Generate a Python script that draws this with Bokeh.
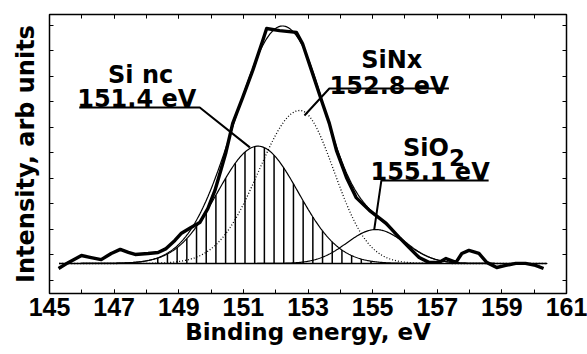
import numpy as np
from bokeh.plotting import figure
from bokeh.models import FixedTicker, LinearAxis, Range1d
from bokeh.embed import file_html
from bokeh.resources import INLINE
from bokeh.core.properties import value

# ---- data ----
energy = [145.28, 145.59, 145.99, 146.29, 146.60, 146.91, 147.19, 147.44, 147.65, 148.05,
          148.36, 148.61, 148.88, 149.07, 149.38, 149.65, 149.90, 150.12, 150.30, 150.46,
          150.67, 150.98, 151.29, 151.60, 151.72, 152.12, 152.64, 152.83, 153.14, 153.45,
          153.66, 153.88, 154.19, 154.49, 154.90, 155.42, 155.82, 156.13, 156.44, 156.74,
          157.05, 157.27, 157.58, 157.76, 157.98, 158.29, 158.53, 158.84, 159.12, 159.43,
          159.73, 160.04, 160.29]
intensity = [0.47, 0.71, 0.98, 0.90, 0.82, 1.06, 1.22, 1.10, 1.02, 1.06,
             1.10, 1.25, 1.57, 1.84, 2.08, 2.27, 2.82, 3.53, 4.31, 5.02,
             6.16, 7.18, 8.24, 9.41, 9.88, 9.80, 9.73, 9.29, 8.12, 6.94,
             6.16, 5.10, 4.04, 3.25, 2.75, 2.24, 1.69, 1.29, 0.90, 0.71,
             0.71, 0.86, 0.71, 1.06, 1.18, 1.06, 0.71, 0.51, 0.59, 0.67,
             0.67, 0.59, 0.47]

baseline_level = 0.667
baseline_span = [145.3, 160.4]

peak_names = ["Si nc", "SiNx", "SiO2"]
peak_centers = [151.45, 152.75, 155.1]
peak_heights = [4.6, 6.0, 1.33]
peak_sigmas_left = [1.25, 1.27, 0.90]
peak_sigmas_right = [1.25, 1.05, 0.90]

x_major_ticks = [145, 147, 149, 151, 153, 155, 157, 159, 161]
x_minor_ticks = list(range(145, 162))
y_ticks = list(range(0, 11))

x_title = "Binding energy, eV"
y_title = "Intensity, arb units"

# ---- figure ----
p = figure(width=587, height=354, output_backend="svg", toolbar_location=None,
           x_range=Range1d(145, 161), y_range=Range1d(-0.51, 10.43),
           min_border_left=49, min_border_right=21, min_border_top=14, min_border_bottom=61)
p.grid.visible = False
p.outline_line_color = "black"
p.outline_line_width = 1.5
p.background_fill_color = "white"
p.border_fill_color = "white"

xt = FixedTicker(ticks=x_major_ticks, minor_ticks=x_minor_ticks)
yt = FixedTicker(ticks=y_ticks, minor_ticks=[])

xa = p.xaxis[0]
xa.ticker = xt
xa.major_tick_in = 4
xa.major_tick_out = 0
xa.minor_tick_in = 4
xa.minor_tick_out = 0
xa.axis_line_color = "black"
xa.major_label_text_font = "Liberation Sans"
xa.major_label_text_font_style = "bold"
xa.major_label_text_font_size = "25px"
xa.major_label_text_color = "black"
xa.major_label_standoff = 4
xa.axis_label = x_title
xa.axis_label_text_font = "DejaVu Sans"
xa.axis_label_text_font_style = "bold"
xa.axis_label_text_font_size = "23px"
xa.axis_label_text_color = "black"
xa.axis_label_standoff = 0

ya = p.yaxis[0]
ya.ticker = yt
ya.major_tick_in = 4
ya.major_tick_out = 0
ya.minor_tick_in = 0
ya.minor_tick_out = 0
ya.major_label_text_font_size = "1px"
ya.major_label_text_alpha = 0
ya.major_label_standoff = 0
ya.major_label_overrides = {t: "" for t in y_ticks}
ya.axis_label = y_title
ya.axis_label_text_font = "DejaVu Sans"
ya.axis_label_text_font_style = "bold"
ya.axis_label_text_font_size = "24px"
ya.axis_label_text_color = "black"
ya.axis_label_standoff = 10

top = LinearAxis(ticker=xt, major_tick_in=4, major_tick_out=0, minor_tick_in=4, minor_tick_out=0,
                 major_label_text_font_size="1px", major_label_text_alpha=0, major_label_standoff=0,
                 major_label_overrides={t: "" for t in x_major_ticks})
right = LinearAxis(ticker=yt, major_tick_in=4, major_tick_out=0, minor_tick_in=0, minor_tick_out=0,
                   major_label_text_font_size="1px", major_label_text_alpha=0, major_label_standoff=0,
                   major_label_overrides={t: "" for t in y_ticks})
p.add_layout(top, "above")
p.add_layout(right, "right")

# ---- model components (split Gaussians, parameters) ----
xs = np.linspace(baseline_span[0], baseline_span[1], 700)

def peak(x, c, h, sl, sr):
    x = np.asarray(x, dtype=float)
    s = np.where(x < c, sl, sr)
    return h * np.exp(-((x - c) ** 2) / (2 * s ** 2))

comps = [peak(xs, c, h, sl, sr) for c, h, sl, sr in
         zip(peak_centers, peak_heights, peak_sigmas_left, peak_sigmas_right)]
envelope = baseline_level + sum(comps)

# hatching of the Si nc component
hx = np.arange(148.35, 155.4, 0.3)
hy = baseline_level + peak(hx, peak_centers[0], peak_heights[0], peak_sigmas_left[0], peak_sigmas_right[0])
p.segment(x0=hx, y0=[baseline_level] * len(hx), x1=hx, y1=hy, line_color="black", line_width=1.5)

# baseline
p.line(baseline_span, [baseline_level, baseline_level], line_color="black", line_width=1.5)

# components
p.line(xs, baseline_level + comps[0], line_color="black", line_width=1.2)
p.line(xs, baseline_level + comps[1], line_color="black", line_width=1.3, line_dash="1 2")
p.line(xs, baseline_level + comps[2], line_color="black", line_width=1.2)

# envelope
p.line(xs, envelope, line_color="black", line_width=1.2)

# measured data
p.line(energy, intensity, line_color="black", line_width=3.4, line_join="round")

# ---- annotations ----
fnt = value("DejaVu Sans")
ann_text = ["Si nc", "151.4 eV", "SiNx", "152.8 eV", "155.1 eV"]
ann_x = [147.82, 147.70, 155.59, 155.51, 156.78]
ann_y = [8.04, 7.10, 8.63, 7.61, 4.24]
p.text(x=ann_x, y=ann_y, text=ann_text, text_font=fnt, text_font_style="bold",
       text_font_size="24px", text_align="center", text_baseline="alphabetic", text_color="black")
p.text(x=[157.36], y=[5.18], text=["SiO"], text_font=fnt, text_font_style="bold",
       text_font_size="24px", text_align="right", text_baseline="alphabetic", text_color="black")
p.text(x=[157.36], y=[5.18], text=["2"], text_font=fnt, text_font_style="bold",
       text_font_size="23px", text_align="left", text_baseline="alphabetic", text_color="black",
       y_offset=9)

leaders = [
    ([145.92, 149.65, 151.2], [6.78, 6.78, 5.22]),
    ([157.36, 153.66, 152.89], [7.53, 7.53, 6.47]),
    ([158.59, 155.27, 155.05], [3.92, 3.92, 2.0]),
]
for lx, ly in leaders:
    p.line(lx, ly, line_color="black", line_width=2)

open("out.html", "w").write(file_html(p, INLINE))
